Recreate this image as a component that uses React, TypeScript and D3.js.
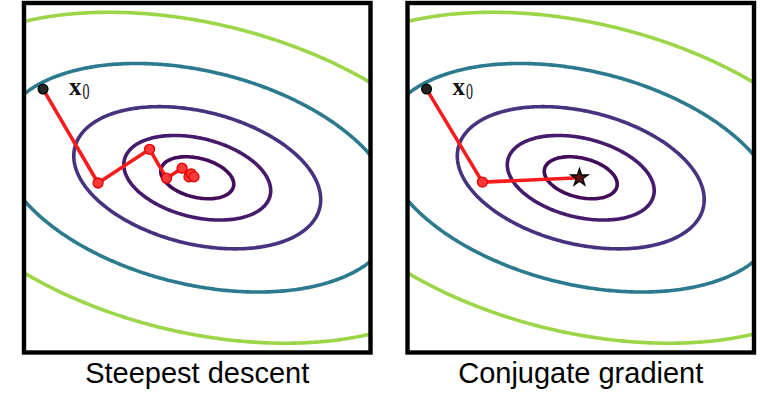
import React from "react";
import * as d3 from "d3";

// quadratic bowl f(x, y) = a x^2 + 2 b x y + c y^2 (data units, y up)
const formA = 0.326;
const formB = 0.175;
const formC = 1;

const contourLevels = [0.21, 0.85, 2.4, 6.2, 13];
const contourColors = ["#430c5a", "#461b6c", "#46327e", "#2b7a8d", "#9bd648"];

const panelTitles = ["Steepest descent", "Conjugate gradient"];

const startPoint: [number, number] = [-3.56, 2.03];
const steepestIterates: [number, number][] = [
  [-2.29, -0.12],
  [-1.1, 0.65],
  [-0.71, -0.01],
  [-0.35, 0.22],
  [-0.19, 0.02],
  [-0.14, 0.09],
  [-0.075, 0.02],
];
const conjugateIterates: [number, number][] = [[-2.27, -0.1]];
const minimumPoint: [number, number] = [-0.03, 0.0];

const domain: [number, number] = [-4, 4];
const width = 760;
const height = 393;
const panelLeft = [24, 407.5];
const panelTop = 3;
const panelW = 346.5;
const panelH = 349.5;

// grid for the contours, wider than the panel so rings close
const gridMin = -8;
const gridStep = 0.05;
const gridN = 321;
const gridValues: number[] = [];
for (let j = 0; j < gridN; j++) {
  for (let i = 0; i < gridN; i++) {
    const x = gridMin + i * gridStep;
    const y = -gridMin - j * gridStep;
    gridValues.push(formA * x * x + 2 * formB * x * y + formC * y * y);
  }
}
const contourSet = d3.contours().size([gridN, gridN]).thresholds(contourLevels)(gridValues);

function Panel({
  index,
  title,
  iterates,
  showStar,
}: {
  index: number;
  title: string;
  iterates: [number, number][];
  showStar: boolean;
}) {
  const left = panelLeft[index];
  const xScale = d3.scaleLinear().domain(domain).range([left, left + panelW]);
  const yScale = d3.scaleLinear().domain(domain).range([panelTop + panelH, panelTop]);

  const projection = d3.geoTransform({
    point(u: number, v: number) {
      // @ts-ignore
      this.stream.point(
        xScale(gridMin + (u - 0.5) * gridStep),
        yScale(-gridMin - (v - 0.5) * gridStep)
      );
    },
  });
  const geoPath = d3.geoPath(projection);

  const points: [number, number][] = [startPoint, ...iterates];
  if (showStar) points.push(minimumPoint);
  const line = d3
    .line<[number, number]>()
    .x((d) => xScale(d[0]))
    .y((d) => yScale(d[1]));

  const sx = xScale(startPoint[0]);
  const sy = yScale(startPoint[1]);
  const star = d3.symbol().type(d3.symbolStar).size(90)();
  const clipId = `panel-clip-${index}`;

  return (
    <g>
      <clipPath id={clipId}>
        <rect x={left} y={panelTop} width={panelW} height={panelH} />
      </clipPath>
      <g clipPath={`url(#${clipId})`}>
        {contourSet.map((c, k) => (
          <path
            key={k}
            d={geoPath(c as any) || ""}
            fill="none"
            stroke={contourColors[k]}
            strokeWidth={3.6}
          />
        ))}
        <path
          d={line(points) || ""}
          fill="none"
          stroke="#f51d1d"
          strokeWidth={3.6}
          strokeLinejoin="round"
        />
        {iterates.map((p, k) => (
          <circle
            key={k}
            cx={xScale(p[0])}
            cy={yScale(p[1])}
            r={5}
            fill="#ff3838"
            stroke="#e80000"
            strokeWidth={1.3}
          />
        ))}
        <circle cx={sx} cy={sy} r={4.8} fill="#262626" stroke="#000" strokeWidth={1.5} />
        {showStar && (
          <path
            d={star || ""}
            transform={`translate(${xScale(minimumPoint[0])},${yScale(minimumPoint[1])})`}
            fill="#5e1212"
            stroke="#000"
            strokeWidth={1.4}
          />
        )}
      </g>
      <text
        x={sx + 26}
        y={sy + 6}
        fontFamily="'Liberation Serif', 'DejaVu Serif', serif"
        fontWeight="bold"
        fontSize={25}
        fill="#111"
      >
        x
      </text>
      <text
        x={sx + 39.5}
        y={sy + 10}
        fontFamily="'Liberation Serif', 'DejaVu Serif', serif"
        fontSize={23}
        textLength={7}
        lengthAdjust="spacingAndGlyphs"
        fill="#111"
      >
        0
      </text>
      <rect
        x={left}
        y={panelTop}
        width={panelW}
        height={panelH}
        fill="none"
        stroke="#000"
        strokeWidth={4.4}
      />
      <text
        x={left + panelW / 2}
        y={383}
        textAnchor="middle"
        fontFamily="'Liberation Sans', Arial, sans-serif"
        fontSize={29}
        fill="#000"
      >
        {title}
      </text>
    </g>
  );
}

export default function App() {
  return (
    <svg
      width={width}
      height={height}
      style={{ position: "absolute", left: 0, top: 0, background: "#fff" }}
    >
      <rect width={width} height={height} fill="#fff" />
      <Panel index={0} title={panelTitles[0]} iterates={steepestIterates} showStar={false} />
      <Panel index={1} title={panelTitles[1]} iterates={conjugateIterates} showStar={true} />
    </svg>
  );
}
